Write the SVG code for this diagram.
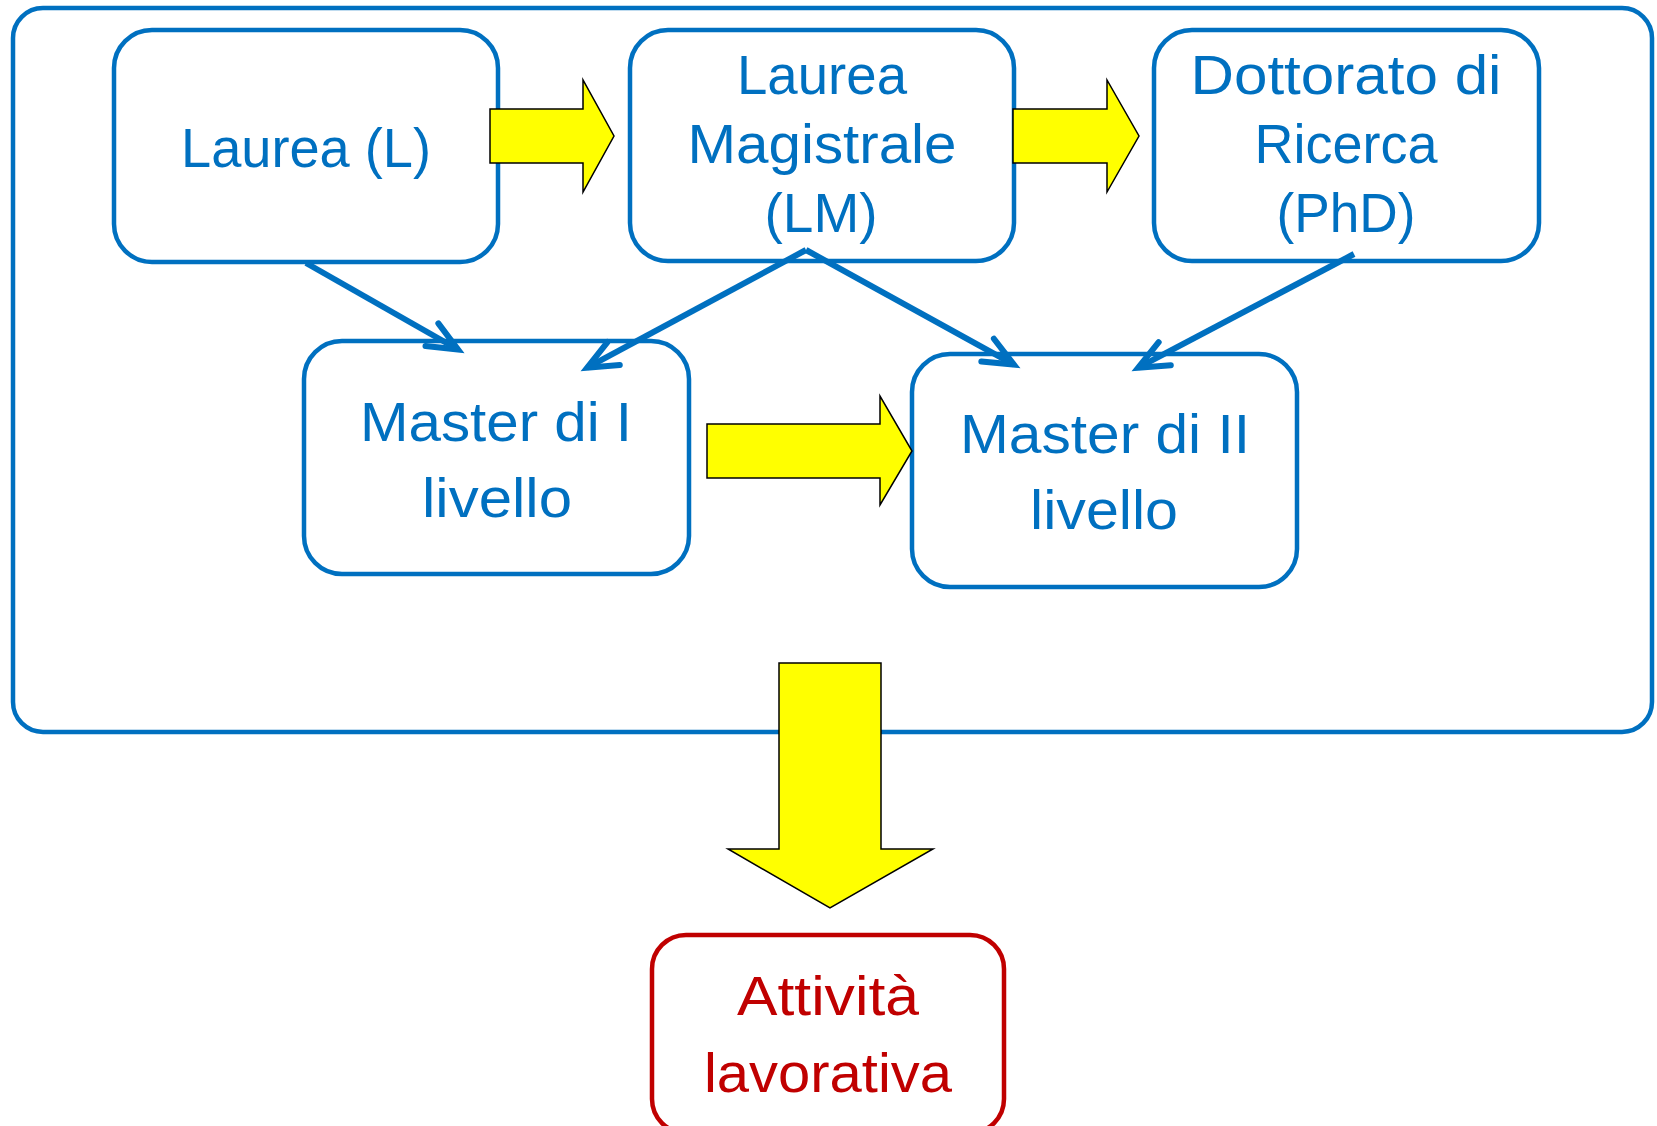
<svg xmlns="http://www.w3.org/2000/svg" width="1657" height="1126" viewBox="0 0 1657 1126">
<style>
.box{fill:#fff;stroke:#0070C0;stroke-width:4.5}
.red{fill:#fff;stroke:#C00000;stroke-width:4.5}
.t{font-family:"Liberation Sans",Arial,sans-serif;font-size:55px;fill:#0070C0;text-anchor:middle}
.tr{font-family:"Liberation Sans",Arial,sans-serif;font-size:55px;fill:#C00000;text-anchor:middle}
.ya{fill:#FFFF00;stroke:#000;stroke-width:1.5;stroke-linejoin:miter}
.con{stroke:#0070C0;stroke-width:6;fill:none;marker-end:url(#ah)}
</style>
<defs>
<marker id="ah" markerUnits="userSpaceOnUse" markerWidth="80" markerHeight="80" refX="0" refY="0" orient="auto" overflow="visible" viewBox="-60 -40 80 80">
<path d="M -30 -13 L 0 0 L -30 13" fill="none" stroke="#0070C0" stroke-width="6" stroke-linecap="round" stroke-linejoin="miter"/>
</marker>
</defs>
<rect x="0" y="0" width="1657" height="1126" fill="#fff"/>
<g id="container"><rect x="13" y="8" width="1639" height="724" rx="30" fill="none" stroke="#0070C0" stroke-width="4.5"/></g>
<g id="laurea"><rect class="box" x="114" y="30" width="384" height="232" rx="38"/><text class="t" x="306" y="167" textLength="250" lengthAdjust="spacingAndGlyphs">Laurea (L)</text></g>
<g id="lm"><rect class="box" x="630" y="30" width="384" height="231" rx="38"/><text class="t" x="822" y="94" textLength="170" lengthAdjust="spacingAndGlyphs">Laurea</text><text class="t" x="822" y="163" textLength="269" lengthAdjust="spacingAndGlyphs">Magistrale</text><text class="t" x="821" y="232" textLength="113" lengthAdjust="spacingAndGlyphs">(LM)</text></g>
<g id="phd"><rect class="box" x="1154" y="30" width="385" height="231" rx="38"/><text class="t" x="1346" y="94" textLength="311" lengthAdjust="spacingAndGlyphs">Dottorato di</text><text class="t" x="1346" y="163" textLength="183" lengthAdjust="spacingAndGlyphs">Ricerca</text><text class="t" x="1346" y="232" textLength="139" lengthAdjust="spacingAndGlyphs">(PhD)</text></g>
<g id="master1"><rect class="box" x="304" y="341" width="385" height="233" rx="38"/><text class="t" x="496" y="441" textLength="272" lengthAdjust="spacingAndGlyphs">Master di I</text><text class="t" x="497" y="517" textLength="150" lengthAdjust="spacingAndGlyphs">livello</text></g>
<g id="master2"><rect class="box" x="912" y="354" width="385" height="233" rx="38"/><text class="t" x="1105" y="453" textLength="290" lengthAdjust="spacingAndGlyphs">Master di II</text><text class="t" x="1104" y="529" textLength="148" lengthAdjust="spacingAndGlyphs">livello</text></g>
<g id="attivita"><rect class="red" x="652" y="935" width="352" height="198" rx="34"/><text class="tr" x="828" y="1015" textLength="182" lengthAdjust="spacingAndGlyphs">Attività</text><text class="tr" x="828" y="1092" textLength="248" lengthAdjust="spacingAndGlyphs">lavorativa</text></g>
<g id="connectors">
<polygon class="ya" points="490,109 583,109 583,80 614,136 583,192 583,163 490,163"/>
<polygon class="ya" points="1013,109 1107,109 1107,80 1139,136 1107,192 1107,163 1013,163"/>
<polygon class="ya" points="707,424 880,424 880,396 912,451 880,505 880,478 707,478"/>
<polygon class="ya" points="779,663 881,663 881,849 933,849 830,908 728,849 779,849"/>
<line class="con" x1="306" y1="263" x2="458" y2="349.5"/>
<line class="con" x1="806" y1="250" x2="587.2" y2="367.7"/>
<line class="con" x1="806" y1="250" x2="1013.9" y2="364.6"/>
<line class="con" x1="1354" y1="254" x2="1138.2" y2="367.7"/>
</g>
</svg>
